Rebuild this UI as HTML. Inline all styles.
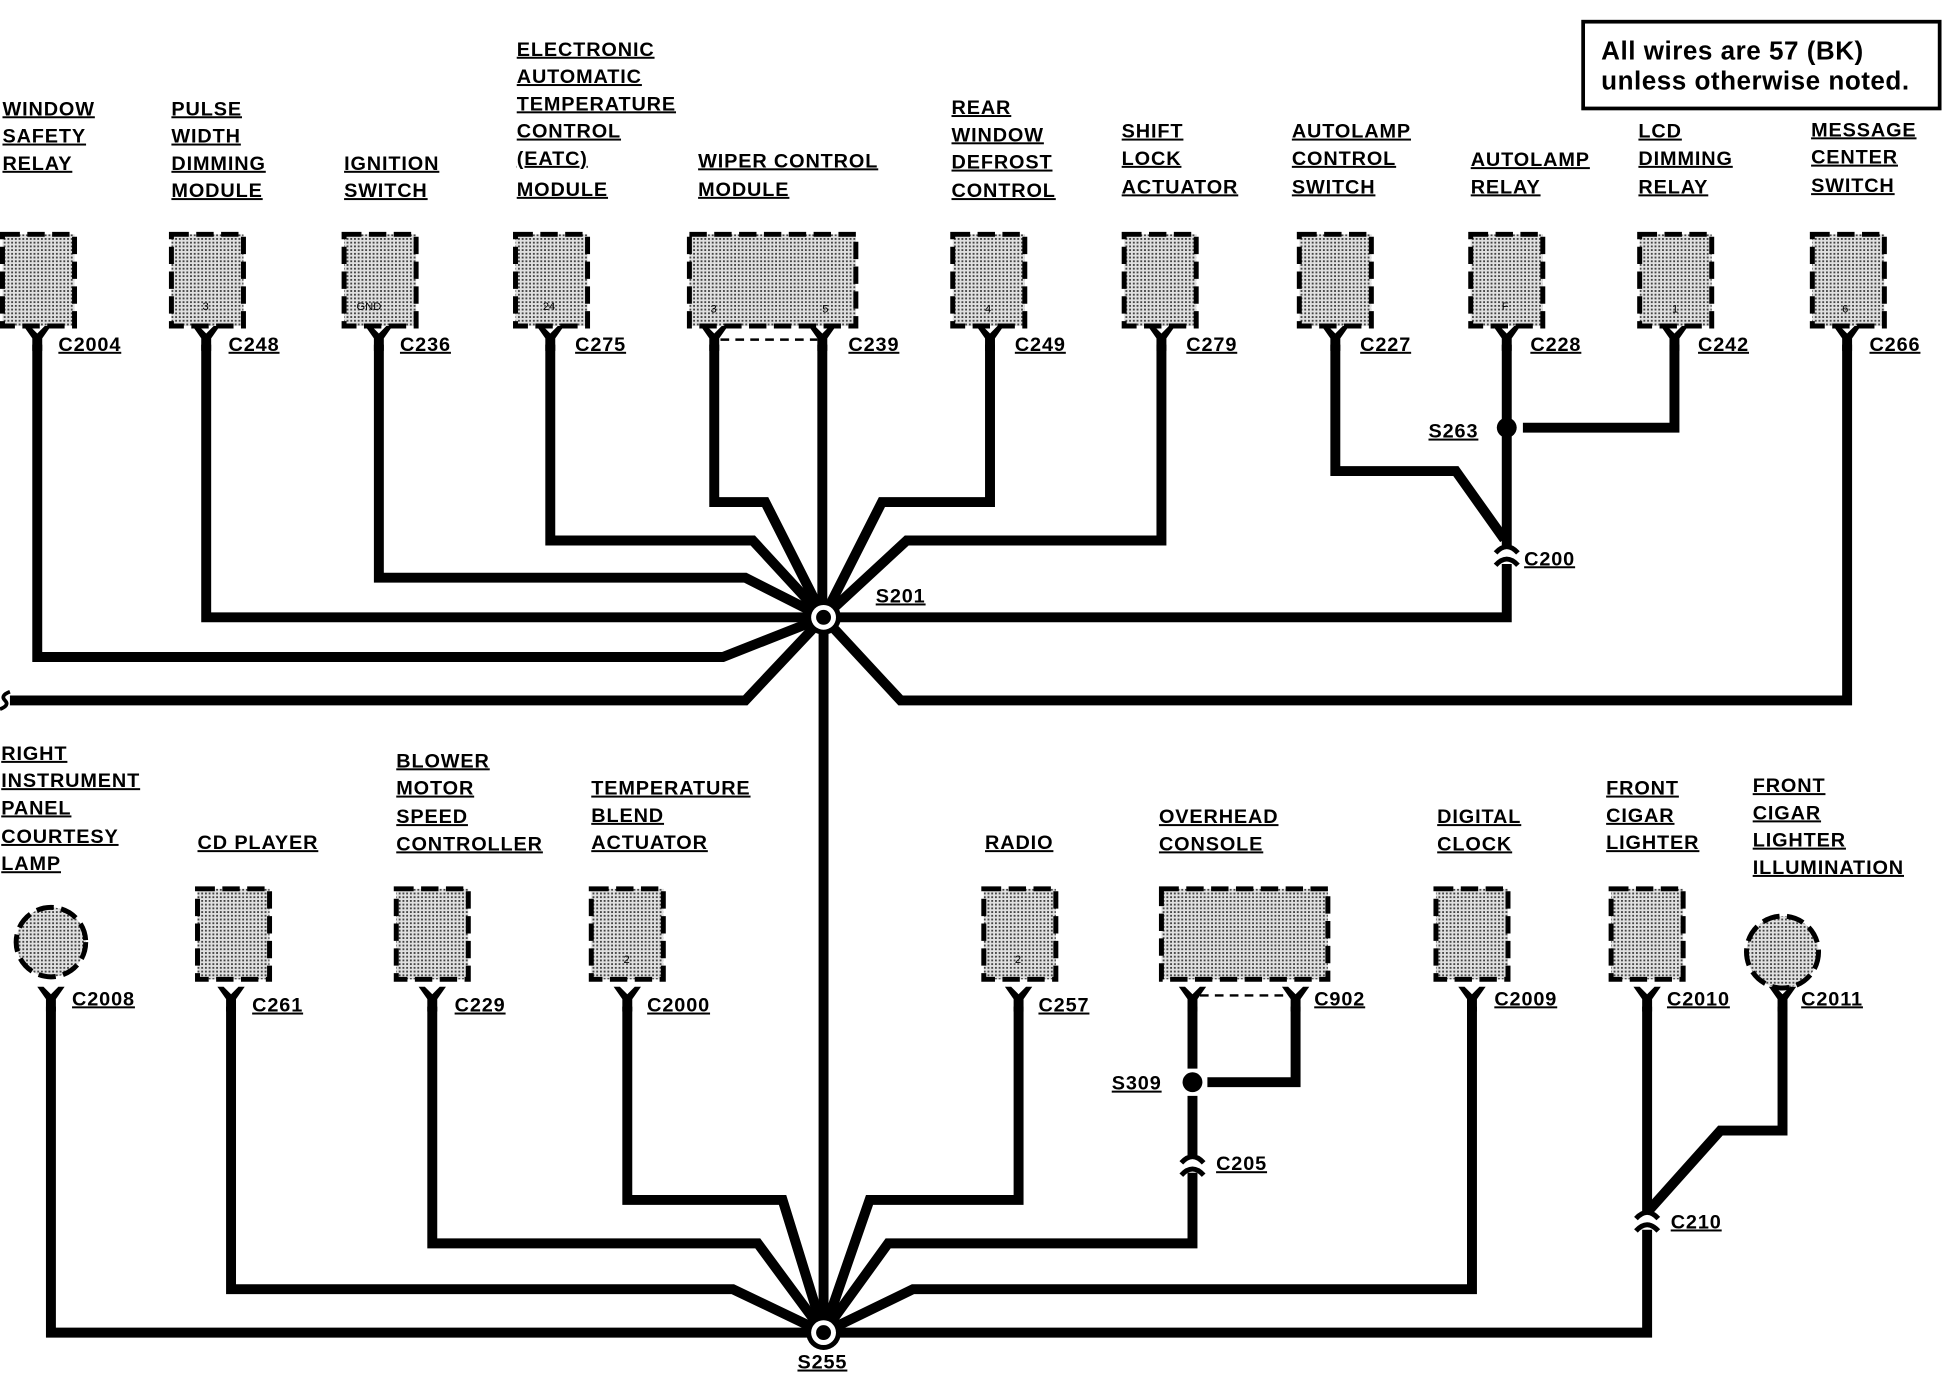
<!DOCTYPE html>
<html><head><meta charset="utf-8"><style>
html,body{margin:0;padding:0;background:#fff;}
svg{display:block;}
text{font-family:"Liberation Sans",sans-serif;font-weight:bold;}
.l{font-size:16px;text-decoration:underline;letter-spacing:0.7px;}
.n{font-size:9px;font-weight:normal;letter-spacing:0;}
</style></head><body>
<svg width="1944" height="1376" viewBox="0 0 1565 1110" preserveAspectRatio="none" xmlns="http://www.w3.org/2000/svg">
<defs>
<pattern id="st" width="3" height="3" patternUnits="userSpaceOnUse">
<rect width="3" height="3" fill="#e0e0e0"/><rect width="1.5" height="1.5" fill="#444"/>
</pattern>
<symbol id="yc" viewBox="-12 0 24 20" width="24" height="20" overflow="visible">
<polygon points="-11,0 -6,0 0,6 6,0 11,0 4,10 4,20 -4,20 -4,10" fill="#000"/>
</symbol>
</defs>
<rect width="1565" height="1110" fill="#fff"/>

<rect x="1274.5" y="17.5" width="287" height="70" fill="#fff" stroke="#000" stroke-width="3"/>
<text x="1289" y="48" style="font-size:21px;letter-spacing:0.4px">All wires are 57 (BK)</text>
<text x="1289" y="72" style="font-size:21px;letter-spacing:0.4px">unless otherwise noted.</text>

<g fill="url(#st)" stroke="#000" stroke-width="4" stroke-dasharray="14,6">
<rect x="2" y="189" width="58" height="74"/>
<rect x="138" y="189" width="58" height="74"/>
<rect x="277" y="189" width="58" height="74"/>
<rect x="415" y="189" width="58" height="74"/>
<rect x="555" y="189" width="134" height="74"/>
<rect x="767" y="189" width="58" height="74"/>
<rect x="905" y="189" width="58" height="74"/>
<rect x="1046" y="189" width="58" height="74"/>
<rect x="1184" y="189" width="58" height="74"/>
<rect x="1320" y="189" width="58" height="74"/>
<rect x="1459" y="189" width="58" height="74"/>
<circle cx="41" cy="760" r="28"/>
<rect x="159" y="717" width="58" height="73"/>
<rect x="319" y="717" width="58" height="73"/>
<rect x="476" y="717" width="58" height="73"/>
<rect x="792" y="717" width="58" height="73"/>
<rect x="935" y="717" width="134" height="73"/>
<rect x="1156" y="717" width="58" height="73"/>
<rect x="1297" y="717" width="58" height="73"/>
<circle cx="1435" cy="768" r="29"/>
</g>
<g>
<text x="163" y="250" class="n">3</text>
<text x="287" y="250" class="n">GND</text>
<text x="437" y="250" class="n">24</text>
<text x="572" y="252" class="n">3</text>
<text x="662" y="252" class="n">5</text>
<text x="793" y="252" class="n">4</text>
<text x="1209" y="250" class="n">F</text>
<text x="1346" y="252" class="n">1</text>
<text x="1483" y="252" class="n">6</text>
<text x="502" y="777" class="n">2</text>
<text x="817" y="777" class="n">2</text>
</g>

<g fill="none" stroke="#000" stroke-width="8" stroke-linejoin="miter">
<polyline points="30,278 30,530 582,530 663,498"/>
<polyline points="166,278 166,498 663,498"/>
<polyline points="305,278 305,466 600,466 663,498"/>
<polyline points="443,278 443,436 606,436 663,498"/>
<polyline points="575,278 575,405 616,405 663,498"/>
<polyline points="662,278 662,498"/>
<polyline points="797,278 797,405 710,405 663,498"/>
<polyline points="935,278 935,436 730,436 663,498"/>
<polyline points="663,498 1213,498 1213,455"/>
<polyline points="1213,440 1213,278"/>
<polyline points="1075,278 1075,380 1172,380 1211,435"/>
<polyline points="1226,345 1348,345 1348,278"/>
<polyline points="1487,278 1487,565 725,565 663,498"/>
<polyline points="8,565 600,565 663,498"/>
<line x1="663" y1="498" x2="663" y2="1075"/>
<polyline points="41,812 41,1075 663,1075"/>
<polyline points="186,812 186,1040 590,1040 663,1075"/>
<polyline points="348,812 348,1003 610,1003 663,1075"/>
<polyline points="505,812 505,968 630,968 663,1075"/>
<polyline points="820,812 820,968 700,968 663,1075"/>
<polyline points="960,812 960,862"/>
<polyline points="960,884 960,932"/>
<polyline points="960,946 960,1003 715,1003 663,1075"/>
<polyline points="972,873 1043,873 1043,812"/>
<polyline points="1185,812 1185,1040 735,1040 663,1075"/>
<polyline points="1326,812 1326,978"/>
<polyline points="1326,992 1326,1075 663,1075"/>
<polyline points="1435,812 1435,912 1385,912 1326,978"/>
</g>
<path d="M8,558 Q0,561 4,565 Q8,569 0,572" fill="none" stroke="#000" stroke-width="3"/>
<g stroke="#000" stroke-width="2" stroke-dasharray="7,5">
<line x1="580" y1="274" x2="658" y2="274"/>
<line x1="966" y1="803" x2="1040" y2="803"/>
</g>

<g>
<use href="#yc" x="18" y="263"/><use href="#yc" x="154" y="263"/><use href="#yc" x="293" y="263"/>
<use href="#yc" x="431" y="263"/><use href="#yc" x="563" y="263"/><use href="#yc" x="650" y="263"/>
<use href="#yc" x="785" y="263"/><use href="#yc" x="923" y="263"/><use href="#yc" x="1063" y="263"/>
<use href="#yc" x="1201" y="263"/><use href="#yc" x="1336" y="263"/><use href="#yc" x="1475" y="263"/>
<use href="#yc" x="29" y="796"/><use href="#yc" x="174" y="796"/><use href="#yc" x="336" y="796"/>
<use href="#yc" x="493" y="796"/><use href="#yc" x="808" y="796"/><use href="#yc" x="948" y="796"/>
<use href="#yc" x="1031" y="796"/><use href="#yc" x="1173" y="796"/><use href="#yc" x="1314" y="796"/>
<use href="#yc" x="1423" y="796"/>
</g>
<g fill="none" stroke="#000" stroke-width="4">
<path d="M1204,446 Q1213,436 1222,446"/><path d="M1204,456 Q1213,446 1222,456"/>
<path d="M951,938 Q960,928 969,938"/><path d="M951,948 Q960,938 969,948"/>
<path d="M1317,983 Q1326,973 1335,983"/><path d="M1317,993 Q1326,983 1335,993"/>
</g>
<circle cx="663" cy="498" r="14" fill="#000"/><circle cx="663" cy="498" r="10" fill="#fff"/><circle cx="663" cy="498" r="6" fill="#000"/>
<circle cx="663" cy="1075" r="14" fill="#000"/><circle cx="663" cy="1075" r="10" fill="#fff"/><circle cx="663" cy="1075" r="6" fill="#000"/>
<circle cx="1213" cy="345" r="8" fill="#000"/>
<circle cx="960" cy="873" r="8" fill="#000"/>

<g>
<text class="l" x="47" y="283">C2004</text><text class="l" x="184" y="283">C248</text>
<text class="l" x="322" y="283">C236</text><text class="l" x="463" y="283">C275</text>
<text class="l" x="683" y="283">C239</text><text class="l" x="817" y="283">C249</text>
<text class="l" x="955" y="283">C279</text><text class="l" x="1095" y="283">C227</text>
<text class="l" x="1232" y="283">C228</text><text class="l" x="1367" y="283">C242</text>
<text class="l" x="1505" y="283">C266</text>
<text class="l" x="1150" y="353">S263</text><text class="l" x="1227" y="456">C200</text>
<text class="l" x="705" y="486">S201</text>
<text class="l" x="58" y="811">C2008</text><text class="l" x="203" y="816">C261</text>
<text class="l" x="366" y="816">C229</text><text class="l" x="521" y="816">C2000</text>
<text class="l" x="836" y="816">C257</text><text class="l" x="1058" y="811">C902</text>
<text class="l" x="895" y="879">S309</text><text class="l" x="979" y="944">C205</text>
<text class="l" x="1203" y="811">C2009</text><text class="l" x="1342" y="811">C2010</text>
<text class="l" x="1450" y="811">C2011</text><text class="l" x="1345" y="991">C210</text>
<text class="l" x="642" y="1104">S255</text>
</g>

<text class="l" x="2" y="93">WINDOW</text><text class="l" x="2" y="115">SAFETY</text><text class="l" x="2" y="137">RELAY</text>
<text class="l" x="138" y="93">PULSE</text><text class="l" x="138" y="115">WIDTH</text><text class="l" x="138" y="137">DIMMING</text><text class="l" x="138" y="159">MODULE</text>
<text class="l" x="277" y="137">IGNITION</text><text class="l" x="277" y="159">SWITCH</text>
<text class="l" x="416" y="45">ELECTRONIC</text><text class="l" x="416" y="67">AUTOMATIC</text><text class="l" x="416" y="89">TEMPERATURE</text><text class="l" x="416" y="111">CONTROL</text><text class="l" x="416" y="133">(EATC)</text><text class="l" x="416" y="158">MODULE</text>
<text class="l" x="562" y="135">WIPER CONTROL</text><text class="l" x="562" y="158">MODULE</text>
<text class="l" x="766" y="92">REAR</text><text class="l" x="766" y="114">WINDOW</text><text class="l" x="766" y="136">DEFROST</text><text class="l" x="766" y="159">CONTROL</text>
<text class="l" x="903" y="111">SHIFT</text><text class="l" x="903" y="133">LOCK</text><text class="l" x="903" y="156">ACTUATOR</text>
<text class="l" x="1040" y="111">AUTOLAMP</text><text class="l" x="1040" y="133">CONTROL</text><text class="l" x="1040" y="156">SWITCH</text>
<text class="l" x="1184" y="134">AUTOLAMP</text><text class="l" x="1184" y="156">RELAY</text>
<text class="l" x="1319" y="111">LCD</text><text class="l" x="1319" y="133">DIMMING</text><text class="l" x="1319" y="156">RELAY</text>
<text class="l" x="1458" y="110">MESSAGE</text><text class="l" x="1458" y="132">CENTER</text><text class="l" x="1458" y="155">SWITCH</text>

<text class="l" x="1" y="613">RIGHT</text><text class="l" x="1" y="635">INSTRUMENT</text><text class="l" x="1" y="657">PANEL</text><text class="l" x="1" y="680">COURTESY</text><text class="l" x="1" y="702">LAMP</text>
<text class="l" x="159" y="685">CD PLAYER</text>
<text class="l" x="319" y="619">BLOWER</text><text class="l" x="319" y="641">MOTOR</text><text class="l" x="319" y="664">SPEED</text><text class="l" x="319" y="686">CONTROLLER</text>
<text class="l" x="476" y="641">TEMPERATURE</text><text class="l" x="476" y="663">BLEND</text><text class="l" x="476" y="685">ACTUATOR</text>
<text class="l" x="793" y="685">RADIO</text>
<text class="l" x="933" y="664">OVERHEAD</text><text class="l" x="933" y="686">CONSOLE</text>
<text class="l" x="1157" y="664">DIGITAL</text><text class="l" x="1157" y="686">CLOCK</text>
<text class="l" x="1293" y="641">FRONT</text><text class="l" x="1293" y="663">CIGAR</text><text class="l" x="1293" y="685">LIGHTER</text>
<text class="l" x="1411" y="639">FRONT</text><text class="l" x="1411" y="661">CIGAR</text><text class="l" x="1411" y="683">LIGHTER</text><text class="l" x="1411" y="705">ILLUMINATION</text>
</svg>
</body></html>
